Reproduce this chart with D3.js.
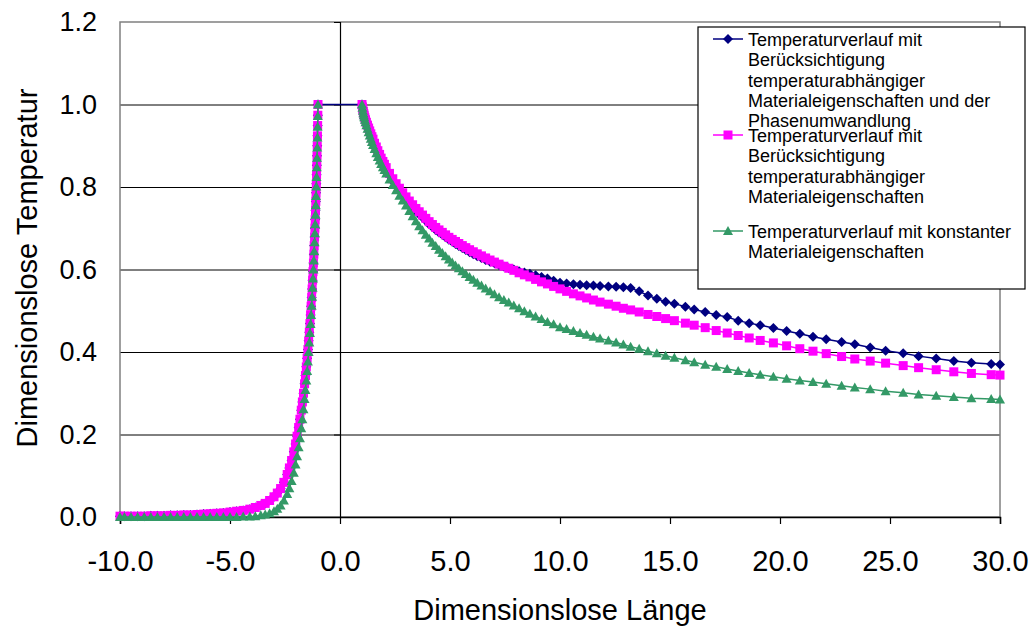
<!DOCTYPE html>
<html>
<head>
<meta charset="utf-8">
<script src="https://cdn.jsdelivr.net/npm/d3@7"></script>
<style>
  body { margin: 0; background: #fff; }
  svg { font-family: "Liberation Sans", Arial, sans-serif; }
</style>
</head>
<body>
<svg width="1033" height="628"></svg>
<script>
// x positions of the mesh nodes, left and right of the source (finer near +-1)
const xLeft = [-10, -9.8, -9.5, -9.2, -8.9, -8.6, -8.3, -8.0, -7.7, -7.4,
  -7.1, -6.8, -6.5, -6.2, -5.9, -5.6, -5.3, -5.0, -4.7, -4.4,
  -4.1, -3.85, -3.6, -3.4, -3.2, -3.0, -2.85, -2.7, -2.55, -2.4,
  -2.3, -2.2, -2.1, -2.02, -1.95, -1.88, -1.82, -1.76, -1.71, -1.66,
  -1.61, -1.57, -1.53, -1.493, -1.458, -1.425, -1.394, -1.365, -1.338, -1.313,
  -1.289, -1.267, -1.246, -1.226, -1.207, -1.189, -1.172, -1.156, -1.141, -1.127,
  -1.113, -1.1, -1.088, -1.076, -1.065, -1.054, -1.044, -1.034, -1.025, -1.016,
  -1.008, -1.0];

const xRight = [1.0, 1.02, 1.04, 1.06, 1.08, 1.1, 1.13, 1.16, 1.2, 1.25,
  1.3, 1.35, 1.4, 1.45, 1.5, 1.57, 1.65, 1.72, 1.8, 1.87,
  1.95, 2.02, 2.1,
  2.25, 2.4, 2.55, 2.7, 2.85, 3.0, 3.15, 3.3, 3.45, 3.6,
  3.75, 3.9, 4.05, 4.2, 4.35, 4.5, 4.65, 4.8, 4.95, 5.1,
  5.25, 5.4, 5.56, 5.72, 5.89, 6.06, 6.24, 6.43, 6.62, 6.82,
  7.02, 7.23, 7.45, 7.67, 7.9, 8.14, 8.38, 8.63, 8.89, 9.16,
  9.43, 9.71, 10.0, 10.3, 10.61, 10.91, 11.21, 11.52, 11.82, 12.2,
  12.55, 12.88, 13.21, 13.6, 14.0, 14.4, 14.8, 15.2, 15.7, 16.1,
  16.6, 17.1, 17.6, 18.1, 18.6, 19.1, 19.7, 20.3, 20.9, 21.5,
  22.1, 22.8, 23.4, 24.1, 24.8, 25.6, 26.3, 27.1, 27.9, 28.7,
  29.6, 30.0];

// series 1: with temperature dependent properties and phase change
const blueLeft = [0.002, 0.002, 0.002, 0.002, 0.002, 0.003, 0.003, 0.003, 0.004, 0.004,
  0.005, 0.005, 0.006, 0.007, 0.008, 0.009, 0.010, 0.012, 0.014, 0.016,
  0.019, 0.023, 0.028, 0.033, 0.040, 0.049, 0.058, 0.069, 0.084, 0.103,
  0.119, 0.137, 0.158, 0.177, 0.196, 0.217, 0.237, 0.259, 0.279, 0.300,
  0.323, 0.343, 0.364, 0.385, 0.406, 0.427, 0.448, 0.469, 0.490, 0.511,
  0.532, 0.553, 0.574, 0.595, 0.616, 0.637, 0.658, 0.679, 0.700, 0.721,
  0.743, 0.765, 0.786, 0.808, 0.830, 0.853, 0.876, 0.900, 0.924, 0.949,
  0.974, 1.000];
const blueRight = [1.000, 0.993, 0.987, 0.981, 0.976, 0.972, 0.966, 0.960, 0.954, 0.946,
  0.939, 0.932, 0.925, 0.918, 0.912, 0.902, 0.892, 0.883, 0.873, 0.864,
  0.856, 0.849, 0.841,
  0.827, 0.814, 0.802, 0.791, 0.780, 0.770, 0.760, 0.751, 0.742, 0.734,
  0.726, 0.718, 0.710, 0.703, 0.696, 0.690, 0.684, 0.678, 0.672, 0.667,
  0.662, 0.657, 0.652, 0.647, 0.642, 0.637, 0.632, 0.628, 0.623, 0.619,
  0.615, 0.611, 0.607, 0.603, 0.600, 0.596, 0.593, 0.590, 0.586, 0.582,
  0.578, 0.573, 0.568, 0.566, 0.564, 0.563, 0.562, 0.561, 0.560, 0.559,
  0.558, 0.557, 0.555, 0.547, 0.537, 0.529, 0.522, 0.517, 0.510, 0.503,
  0.497, 0.490, 0.485, 0.476, 0.470, 0.465, 0.458, 0.451, 0.444, 0.437,
  0.431, 0.424, 0.419, 0.411, 0.403, 0.397, 0.390, 0.384, 0.378, 0.374,
  0.371, 0.370];

// series 2: with temperature dependent properties
const magentaLeft = [0.002, 0.002, 0.002, 0.002, 0.002, 0.003, 0.003, 0.003, 0.004, 0.004,
  0.005, 0.005, 0.006, 0.007, 0.008, 0.009, 0.010, 0.012, 0.014, 0.016,
  0.019, 0.023, 0.028, 0.033, 0.040, 0.049, 0.058, 0.069, 0.084, 0.103,
  0.119, 0.137, 0.158, 0.177, 0.196, 0.217, 0.237, 0.259, 0.279, 0.300,
  0.323, 0.343, 0.364, 0.385, 0.406, 0.427, 0.448, 0.469, 0.490, 0.511,
  0.532, 0.553, 0.574, 0.595, 0.616, 0.637, 0.658, 0.679, 0.700, 0.721,
  0.743, 0.765, 0.786, 0.808, 0.830, 0.853, 0.876, 0.900, 0.924, 0.949,
  0.974, 1.000];
const magentaRight = [1.000, 0.994, 0.988, 0.983, 0.978, 0.974, 0.968, 0.963, 0.957, 0.950,
  0.943, 0.936, 0.929, 0.922, 0.916, 0.906, 0.897, 0.888, 0.879, 0.870,
  0.862, 0.855, 0.847,
  0.833, 0.820, 0.808, 0.797, 0.786, 0.776, 0.766, 0.757, 0.748, 0.740,
  0.732, 0.724, 0.716, 0.709, 0.702, 0.696, 0.690, 0.684, 0.678, 0.673,
  0.668, 0.663, 0.658, 0.653, 0.648, 0.643, 0.638, 0.633, 0.628, 0.623,
  0.618, 0.613, 0.608, 0.603, 0.598, 0.592, 0.587, 0.582, 0.576, 0.570,
  0.565, 0.559, 0.553, 0.547, 0.541, 0.536, 0.531, 0.526, 0.521, 0.516,
  0.511, 0.506, 0.502, 0.497, 0.491, 0.486, 0.481, 0.476, 0.470, 0.465,
  0.459, 0.452, 0.446, 0.440, 0.434, 0.428, 0.422, 0.415, 0.408, 0.402,
  0.396, 0.389, 0.383, 0.378, 0.373, 0.367, 0.362, 0.357, 0.352, 0.348,
  0.345, 0.344];

// series 3: constant properties
const greenLeft = [0, 0, 0, 0, 0, 0, 0, 0, 0, 0,
  0, 0, 0, 0, 0, 0, 0, 0, 0, 0.001,
  0.001, 0.002, 0.004, 0.006, 0.009, 0.014, 0.020, 0.028, 0.040, 0.056,
  0.070, 0.087, 0.107, 0.127, 0.147, 0.169, 0.191, 0.215, 0.237, 0.261,
  0.286, 0.308, 0.331, 0.354, 0.377, 0.400, 0.423, 0.446, 0.468, 0.490,
  0.512, 0.534, 0.556, 0.578, 0.600, 0.622, 0.644, 0.666, 0.688, 0.710,
  0.733, 0.756, 0.778, 0.801, 0.824, 0.848, 0.871, 0.896, 0.920, 0.946,
  0.972, 1.000];
const greenRight = [1.000, 0.992, 0.985, 0.979, 0.974, 0.969, 0.963, 0.957, 0.950, 0.941,
  0.933, 0.925, 0.917, 0.909, 0.902, 0.892, 0.882, 0.873, 0.864, 0.856,
  0.848, 0.841, 0.833,
  0.818, 0.805, 0.792, 0.779, 0.767, 0.755, 0.742, 0.729, 0.717, 0.705,
  0.695, 0.684, 0.675, 0.665, 0.657, 0.648, 0.640, 0.632, 0.624, 0.617,
  0.610, 0.603, 0.596, 0.589, 0.582, 0.575, 0.568, 0.561, 0.554, 0.547,
  0.540, 0.533, 0.526, 0.520, 0.513, 0.506, 0.499, 0.493, 0.486, 0.480,
  0.473, 0.467, 0.460, 0.456, 0.451, 0.446, 0.442, 0.437, 0.433, 0.428,
  0.423, 0.418, 0.413, 0.408, 0.402, 0.397, 0.391, 0.386, 0.380, 0.375,
  0.369, 0.364, 0.359, 0.354, 0.349, 0.345, 0.340, 0.335, 0.331, 0.327,
  0.323, 0.318, 0.314, 0.310, 0.305, 0.301, 0.297, 0.294, 0.291, 0.288,
  0.286, 0.285];

const xTicks = [-10, -5, 0, 5, 10, 15, 20, 25, 30];
const yTicks = [0, 0.2, 0.4, 0.6, 0.8, 1.0, 1.2];

const legendLabels = [
  ["Temperaturverlauf mit", "Berücksichtigung", "temperaturabhängiger", "Materialeigenschaften und der", "Phasenumwandlung"],
  ["Temperaturverlauf mit", "Berücksichtigung", "temperaturabhängiger", "Materialeigenschaften"],
  ["Temperaturverlauf mit konstanter", "Materialeigenschaften"]
];

const markers = {
  diamond: "M0,-5L5,0L0,5L-5,0Z",
  square: "M-4.5,-4.5h9v9h-9Z",
  triangle: "M0,-5L5,4L-5,4Z"
};

const series = [
  { left: blueLeft, right: blueRight, color: "#000080", marker: "diamond", joined: true },
  { left: magentaLeft, right: magentaRight, color: "#ff00ff", marker: "square", joined: false },
  { left: greenLeft, right: greenRight, color: "#339966", marker: "triangle", joined: false }
];

const svg = d3.select("svg");
const plot = { left: 120, right: 1000, top: 22, bottom: 517 };

const x = d3.scaleLinear().domain([-10, 30]).range([plot.left, plot.right]);
const y = d3.scaleLinear().domain([0, 1.2]).range([plot.bottom, plot.top]);

// horizontal gridlines + y labels
const yAxis = svg.append("g")
  .attr("transform", `translate(${plot.left},0)`)
  .call(d3.axisLeft(y).tickValues(yTicks).tickSize(-(plot.right - plot.left)).tickPadding(23)
    .tickFormat(d => d.toFixed(1)));
yAxis.select(".domain").remove();
yAxis.selectAll("line").attr("stroke", "#000").attr("stroke-width", 1)
  .filter(d => d === 1.2 || d === 0).remove();
yAxis.selectAll("text").attr("font-size", 27).attr("fill", "#000")
  .attr("font-family", "Liberation Sans, Arial, sans-serif");

// plot area border
svg.append("rect")
  .attr("x", plot.left).attr("y", plot.top)
  .attr("width", plot.right - plot.left).attr("height", plot.bottom - plot.top)
  .attr("fill", "none").attr("stroke", "#808080").attr("stroke-width", 1.5);

// value axis crossing at x = 0
const zeroAxis = svg.append("g")
  .attr("transform", `translate(${x(0)},0)`)
  .call(d3.axisLeft(y).tickValues(yTicks).tickSize(6).tickFormat(""));
zeroAxis.select(".domain").attr("stroke", "#000").attr("stroke-width", 1.2);
zeroAxis.selectAll("line").attr("stroke", "#000");

// x axis at y = 0
const xAxis = svg.append("g")
  .attr("transform", `translate(0,${plot.bottom})`)
  .call(d3.axisBottom(x).tickValues(xTicks).tickSize(7).tickPadding(26)
    .tickFormat(d => d.toFixed(1)));
xAxis.select(".domain").attr("stroke", "#000").attr("stroke-width", 1.5);
xAxis.selectAll("line").attr("stroke", "#000").attr("stroke-width", 1.2);
xAxis.selectAll("text").attr("font-size", 29).attr("fill", "#000")
  .attr("font-family", "Liberation Sans, Arial, sans-serif");

// series
const line = d3.line().x(d => x(d[0])).y(d => y(d[1]));

series.forEach(s => {
  const leftPts = xLeft.map((v, i) => [v, s.left[i]]);
  const rightPts = xRight.map((v, i) => [v, s.right[i]]);
  const g = svg.append("g");
  const segs = s.joined ? [leftPts.concat(rightPts)] : [leftPts, rightPts];
  segs.forEach(seg => {
    g.append("path").datum(seg)
      .attr("d", line)
      .attr("fill", "none")
      .attr("stroke", s.color)
      .attr("stroke-width", 1.5);
  });
  g.selectAll("path.mk")
    .data(leftPts.concat(rightPts))
    .join("path")
    .attr("class", "mk")
    .attr("d", markers[s.marker])
    .attr("transform", d => `translate(${x(d[0])},${y(d[1])})`)
    .attr("fill", s.color);
});

// axis titles
svg.append("text")
  .attr("x", 560).attr("y", 620)
  .attr("text-anchor", "middle")
  .attr("font-size", 29)
  .text("Dimensionslose Länge");

svg.append("text")
  .attr("transform", "translate(37,268) rotate(-90)")
  .attr("text-anchor", "middle")
  .attr("font-size", 29)
  .text("Dimensionslose Temperatur");

// legend
const legend = svg.append("g");
legend.append("rect")
  .attr("x", 698).attr("y", 27)
  .attr("width", 327).attr("height", 262)
  .attr("fill", "#fff").attr("stroke", "#000").attr("stroke-width", 1.2);

const entryTop = [46, 142, 238];
series.forEach((s, i) => {
  const cy = entryTop[i] - 7;
  legend.append("line")
    .attr("x1", 713).attr("x2", 743)
    .attr("y1", cy).attr("y2", cy)
    .attr("stroke", s.color).attr("stroke-width", 1.5);
  legend.append("path")
    .attr("d", markers[s.marker])
    .attr("transform", `translate(728,${cy})`)
    .attr("fill", s.color);
  legend.append("text")
    .attr("font-size", 18)
    .selectAll("tspan")
    .data(legendLabels[i])
    .join("tspan")
    .attr("x", 748)
    .attr("y", (d, j) => entryTop[i] + j * 20.3)
    .text(d => d);
});
</script>
</body>
</html>
